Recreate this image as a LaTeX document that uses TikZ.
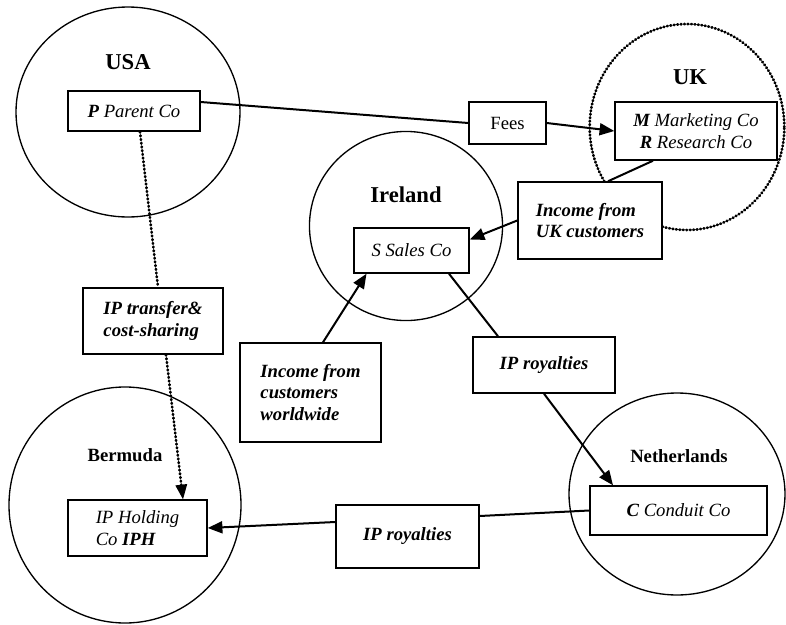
\documentclass[tikz,border=0pt]{standalone}
\usepackage{fontspec}
\setmainfont{Liberation Serif}
\usetikzlibrary{arrows.meta}
\tikzstyle{country}=[line width=1pt]
\tikzstyle{countrydotted}=[line width=2pt,dash pattern=on 0.6pt off 2pt,line cap=round]
\tikzstyle{countrylabel}=[font=\fontsize{17}{20}\selectfont\bfseries]
\tikzstyle{smallcountrylabel}=[font=\fontsize{14}{16}\selectfont\bfseries]
\tikzstyle{company}=[draw,line width=1.1pt,fill=white,align=center,inner sep=0pt,font=\fontsize{14}{16}\selectfont\itshape]
\tikzstyle{flowbox}=[draw,line width=1.1pt,fill=white,align=left,inner sep=0pt,font=\fontsize{14}{16}\selectfont\bfseries\itshape]
\tikzstyle{orientedarc}=[-{Triangle[length=11pt,width=9pt]},line width=1.5pt]
\tikzstyle{arc}=[line width=1.5pt]
\tikzstyle{dottedarc}=[line width=2pt,dash pattern=on 0.6pt off 2.2pt,line cap=round]
\tikzstyle{dottedorientedarc}=[dottedarc,-{Triangle[length=11pt,width=9pt,line cap=butt,line width=0pt]}]

\begin{document}
\begin{tikzpicture}[x=0.75pt,y=-0.75pt]
\useasboundingbox (0,0) rectangle (786,625);

% countries
\draw[country] (128,112) ellipse (84pt and 78.75pt);
\draw[countrydotted] (687,127) ellipse (73pt and 77.25pt);
\draw[country] (406,226) ellipse (72.4pt and 70.9pt);
\draw[country] (677,494) ellipse (81pt and 75.75pt);
\draw[country] (125,505) ellipse (87pt and 88.5pt);

\node[countrylabel] (USA) at (128,62) {USA};
\node[countrylabel] (UK) at (690,77) {UK};
\node[countrylabel] (IE) at (406,195) {Ireland};
\node[smallcountrylabel] (BM) at (125,455) {Bermuda};
\node[smallcountrylabel] (NL) at (679,456) {Netherlands};

% companies
\node[company,minimum width=99pt,minimum height=30pt] (P) at (134,111) {\textbf{P} Parent Co};
\node[company,minimum width=121.5pt,minimum height=43.5pt] (M) at (696,131) {\textbf{M} Marketing Co\\\textbf{R} Research Co};
\node[company,minimum width=86.25pt,minimum height=33.75pt] (S) at (411.5,250.5) {S Sales Co};
\node[company,minimum width=132.75pt,minimum height=36.75pt] (C) at (678.5,510.5) {\textbf{C} Conduit Co};
\node[company,align=left,minimum width=104.25pt,minimum height=42pt] (IPH) at (137.5,528) {IP Holding\\Co \textbf{IPH}};

% flows
\node[company,font=\fontsize{14}{16}\selectfont,minimum width=57.75pt,minimum height=31.5pt] (Fees) at (507.5,123) {Fees};
\node[flowbox,minimum width=108pt,minimum height=57.75pt] (IncUK) at (590,220.5) {Income from\\UK customers};
\node[flowbox,minimum width=105pt,minimum height=49.5pt] (IPT) at (153,321) {IP transfer\&\\cost-sharing};
\node[flowbox,minimum width=105.75pt,minimum height=74.25pt] (IncW) at (310.5,392.5) {Income from\\customers\\worldwide};
\node[flowbox,minimum width=106.5pt,minimum height=42pt] (IPR1) at (544,365) {IP royalties};
\node[flowbox,minimum width=107.25pt,minimum height=47.25pt] (IPR2) at (407.5,536.5) {IP royalties};

\coordinate[shift={(0,-9)}] (POUT) at (P.east);
\coordinate[shift={(6,0)}] (PSOUTH) at (P.south);
\coordinate[shift={(5,0)}] (IPTNORTH) at (IPT.north);
\coordinate[shift={(13,0)}] (IPTSOUTH) at (IPT.south);
\coordinate[shift={(45.5,0)}] (IPHNORTH) at (IPH.north);
\coordinate[shift={(-43,0)}] (MSOUTH) at (M.south);
\coordinate[shift={(18,0)}] (INCUKNORTH) at (IncUK.north);
\coordinate[shift={(0,-11)}] (SEAST) at (S.east);
\coordinate[shift={(12.5,0)}] (INCWNORTH) at (IncW.north);
\coordinate[shift={(-45,0)}] (SSOUTH1) at (S.south);
\coordinate[shift={(37.5,0)}] (SSOUTH2) at (S.south);
\coordinate[shift={(-46,0)}] (IPR1NORTH) at (IPR1.north);
\coordinate[shift={(-65.5,0)}] (CNORTH) at (C.north);
\coordinate[shift={(0,-20.5)}] (IPR2EAST) at (IPR2.east);
\coordinate[shift={(0,-14.5)}] (IPR2WEST) at (IPR2.west);

\draw[arc] (POUT) -- (Fees.west);
\draw[orientedarc] (Fees.east) -- (M.west);
\draw[arc] (MSOUTH) -- (INCUKNORTH);
\draw[orientedarc] (IncUK.west) -- (SEAST);
\draw[orientedarc] (INCWNORTH) -- (SSOUTH1);
\draw[arc] (SSOUTH2) -- (IPR1NORTH);
\draw[orientedarc] (IPR1.south) -- (CNORTH);
\draw[arc] (C.west) -- (IPR2EAST);
\draw[orientedarc] (IPR2WEST) -- (IPH.east);
\draw[dottedarc] (PSOUTH) -- (IPTNORTH);
\draw[dottedorientedarc] (IPTSOUTH) -- (IPHNORTH);

\end{tikzpicture}
\end{document}
